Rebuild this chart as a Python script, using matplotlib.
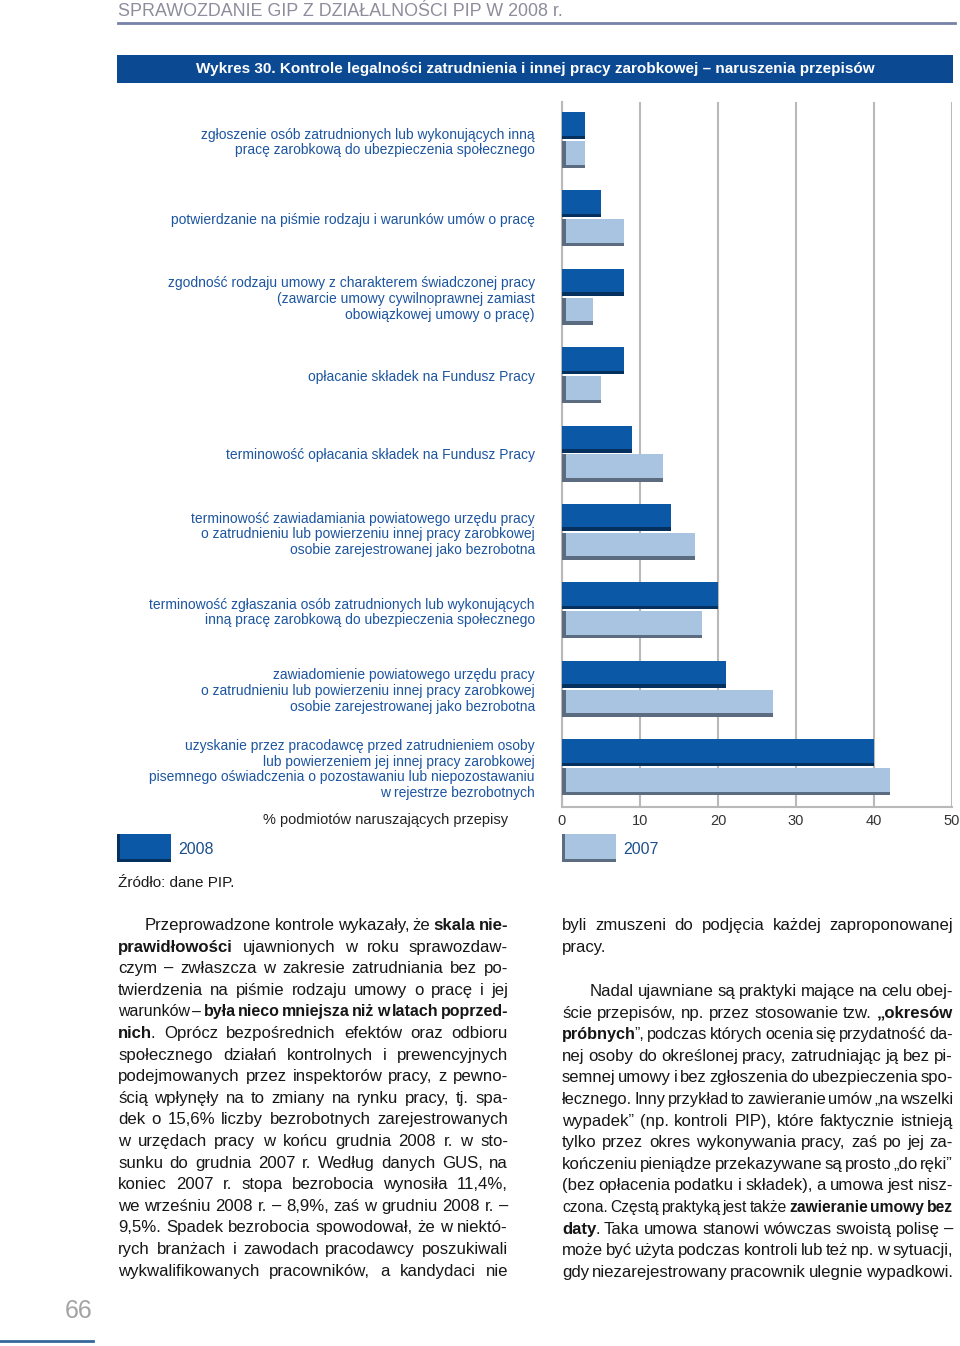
import matplotlib
matplotlib.use('Agg')
import matplotlib.pyplot as plt
from matplotlib.patches import Rectangle
import numpy as np

# chart data
categories = [
    "zgłoszenie osób zatrudnionych lub wykonujących inną\npracę zarobkową do ubezpieczenia społecznego",
    "potwierdzanie na piśmie rodzaju i warunków umów o pracę",
    "zgodność rodzaju umowy z charakterem świadczonej pracy\n(zawarcie umowy cywilnoprawnej zamiast\nobowiązkowej umowy o pracę)",
    "opłacanie składek na Fundusz Pracy",
    "terminowość opłacania składek na Fundusz Pracy",
    "terminowość zawiadamiania powiatowego urzędu pracy\no zatrudnieniu lub powierzeniu innej pracy zarobkowej\nosobie zarejestrowanej jako bezrobotna",
    "terminowość zgłaszania osób zatrudnionych lub wykonujących\ninną pracę zarobkową do ubezpieczenia społecznego",
    "zawiadomienie powiatowego urzędu pracy\no zatrudnieniu lub powierzeniu innej pracy zarobkowej\nosobie zarejestrowanej jako bezrobotna",
    "uzyskanie przez pracodawcę przed zatrudnieniem osoby\nlub powierzeniem jej innej pracy zarobkowej\npisemnego oświadczenia o pozostawaniu lub niepozostawaniu\nw rejestrze bezrobotnych",
]
v2008 = [3, 5, 8, 8, 9, 14, 20, 21, 40]
v2007 = [3, 8, 4, 5, 13, 17, 18, 27, 42]
xticks = [0, 10, 20, 30, 40, 50]
series_names = ['2008', '2007']

header = "SPRAWOZDANIE GIP Z DZIAŁALNOŚCI PIP W 2008 r."
title = "Wykres 30. Kontrole legalności zatrudnienia i innej pracy zarobkowej – naruszenia przepisów"
xlabel = "% podmiotów naruszających przepisy"
source = "Źródło: dane PIP."
page_no = "66"

# body text, * toggles bold (closed on each line)
left_lines = [
    "Przeprowadzone kontrole wykazały, że *skala nie-*",
    "*prawidłowości* ujawnionych w roku sprawozdaw-",
    "czym – zwłaszcza w zakresie zatrudniania bez po-",
    "twierdzenia na piśmie rodzaju umowy o pracę i jej",
    "warunków – *była nieco mniejsza niż w latach poprzed-*",
    "*nich*. Oprócz bezpośrednich efektów oraz odbioru",
    "społecznego działań kontrolnych i prewencyjnych",
    "podejmowanych przez inspektorów pracy, z pewno-",
    "ścią wpłynęły na to zmiany na rynku pracy, tj. spa-",
    "dek o 15,6% liczby bezrobotnych zarejestrowanych",
    "w urzędach pracy w końcu grudnia 2008 r. w sto-",
    "sunku do grudnia 2007 r. Według danych GUS, na",
    "koniec 2007 r. stopa bezrobocia wynosiła 11,4%,",
    "we wrześniu 2008 r. – 8,9%, zaś w grudniu 2008 r. –",
    "9,5%. Spadek bezrobocia spowodował, że w niektó-",
    "rych branżach i zawodach pracodawcy poszukiwali",
    "wykwalifikowanych pracowników, a kandydaci nie",
]
right_par1 = [
    "byli zmuszeni do podjęcia każdej zaproponowanej",
    "pracy.",
]
right_par2 = [
    "Nadal ujawniane są praktyki mające na celu obej-",
    "ście przepisów, np. przez stosowanie tzw. *„okresów*",
    "*próbnych*”, podczas których ocenia się przydatność da-",
    "nej osoby do określonej pracy, zatrudniając ją bez pi-",
    "semnej umowy i bez zgłoszenia do ubezpieczenia spo-",
    "łecznego. Inny przykład to zawieranie umów „na wszelki",
    "wypadek” (np. kontroli PIP), które faktycznie istnieją",
    "tylko przez okres wykonywania pracy, zaś po jej za-",
    "kończeniu pieniądze przekazywane są prosto „do ręki”",
    "(bez opłacenia podatku i składek), a umowa jest nisz-",
    "czona. Częstą praktyką jest także *zawieranie umowy bez*",
    "*daty*. Taka umowa stanowi wówczas swoistą polisę –",
    "może być użyta podczas kontroli lub też np. w sytuacji,",
    "gdy niezarejestrowany pracownik ulegnie wypadkowi.",
]

DARK = '#0b58a6'
DARK_SH = '#06305e'
LIGHT = '#a9c4e0'
LIGHT_SH = '#5b6b80'
LBL = '#1c55a0'
BODY = ['Liberation Sans', 'DejaVu Sans']
NARROW = ['Liberation Sans Narrow', 'Liberation Sans', 'DejaVu Sans']
BODY_SIZE = 12.1

W, H = 960, 1346
fig = plt.figure(figsize=(W / 100, H / 100), dpi=100)
page = fig.add_axes([0, 0, 1, 1])
page.set_xlim(0, W)
page.set_ylim(H, 0)
page.axis('off')
renderer = fig.canvas.get_renderer()


def text_w(s, size, bold=False, family=BODY):
    t = page.text(0, 0, s, fontsize=size, fontweight='bold' if bold else 'normal', family=family)
    w = t.get_window_extent(renderer).width
    t.remove()
    return w


def adv(s, size, bold=False):
    # advance-like width: ink width of s + 'l' minus ink of 'l'
    return text_w(s + 'l', size, bold) - text_w('l', size, bold)


def fit_text(x, y, s, width, size, **kw):
    t = page.text(x, y, s, fontsize=size, **kw)
    w = t.get_window_extent(renderer).width
    t.set_fontsize(size * width / w)
    return t


def parse(line):
    words = []
    bold = False
    for raw in line.split(' '):
        parts, buf = [], ''
        for ch in raw:
            if ch == '*':
                if buf:
                    parts.append((buf, bold))
                buf = ''
                bold = not bold
            else:
                buf += ch
        if buf:
            parts.append((buf, bold))
        if parts:
            words.append(parts)
    return words


def word_width(parts, size):
    w = 0
    for k, (s, b) in enumerate(parts):
        w += text_w(s, size, b) if k == len(parts) - 1 else adv(s, size, b) - 1
    return w


def text_line(x0, x1, base, line, justify, size=BODY_SIZE):
    words = parse(line)
    space = size * 100 / 72 * 0.278
    widths = [word_width(p, size) for p in words]
    need = sum(widths) + space * 0.55 * (len(words) - 1)
    if need > x1 - x0:
        size = size * (x1 - x0) / need
        space = size * 100 / 72 * 0.278
        widths = [word_width(p, size) for p in words]
    fill = (x1 - x0 - sum(widths)) / max(len(words) - 1, 1)
    gap = fill if justify else min(space, fill)
    x = x0
    for parts, w in zip(words, widths):
        xx = x
        for s, b in parts:
            page.text(xx, base, s, fontsize=size, fontweight='bold' if b else 'normal',
                      family=BODY, color='#161616', ha='left', va='baseline')
            xx += adv(s, size, b) - 1
        x += w + gap


# header
fit_text(118, 12, header, 447, 15, family=NARROW, color='#8d8d9c', ha='left', va='center')
page.plot([118, 955], [23, 23], color='#7682a8', lw=2)

# title banner
page.add_patch(Rectangle((117, 55), 836, 28, color='#0b4a93', lw=0))
fit_text(535, 69.5, title, 670, 12, family=NARROW, fontweight='bold', color='white',
         ha='center', va='center')

# chart
ax = fig.add_axes([562 / W, 1 - 807 / H, 390 / W, 705 / H])
y = np.arange(len(categories))
h = 0.345
off = 0.185
sh = 0.045
ax.barh(y - off, v2008, height=h, color=DARK, zorder=3)
ax.barh(y - off + h / 2 - sh / 2, v2008, height=sh, color=DARK_SH, zorder=4)
ax.barh(y + off, v2007, height=h, color=LIGHT, zorder=3)
ax.barh(y + off + h / 2 - sh / 2, v2007, height=sh, color=LIGHT_SH, zorder=4)
ax.barh(y + off, 0.45, height=h, color=LIGHT_SH, zorder=4)

ax.set_xlim(0, 50)
ax.set_ylim(len(categories) - 0.49, -0.485)
ax.set_xticks(xticks)
ax.set_xticklabels([str(t) for t in xticks], fontsize=10.5, color='#333333', family=BODY)
ax.set_yticks(y)
ax.set_yticklabels(categories, fontsize=10, color=LBL, family=BODY)
for t in ax.get_yticklabels():
    t.set_linespacing(1.15)
    t.set_multialignment('right')
ax.tick_params(axis='y', length=0, pad=19.5)
ax.tick_params(axis='x', length=0, pad=5)
ax.grid(axis='x', color='#b9b9b9', lw=1.5, zorder=0)
ax.set_axisbelow(True)
for s in ['top', 'right']:
    ax.spines[s].set_visible(False)
for s in ['left', 'bottom']:
    ax.spines[s].set_color('#b9b9b9')
    ax.spines[s].set_linewidth(1.5)

page.text(508, 820, xlabel, fontsize=10.5, color='#222222', family=BODY, ha='right', va='center')

# legend
for (lx, name, c, csh) in [(117, series_names[0], DARK, DARK_SH), (562, series_names[1], LIGHT, LIGHT_SH)]:
    page.add_patch(Rectangle((lx, 834), 54, 28, color=c, lw=0))
    page.add_patch(Rectangle((lx, 859), 54, 3, color=csh, lw=0))
    page.add_patch(Rectangle((lx, 834), 3, 28, color=csh, lw=0))
    page.text(lx + 61, 849, name, fontsize=11.5, color='#1d4f8c', family=BODY, ha='left', va='center')

page.text(118, 883, source, fontsize=11, color='#1a1a1a', family=BODY, ha='left', va='center')

# body text
step = 21.6
for i, line in enumerate(left_lines):
    x0 = 145 if i == 0 else 118
    text_line(x0, 508, 930 + step * i, line, justify=True)
for i, line in enumerate(right_par1):
    text_line(562, 953, 930 + 22 * i, line, justify=(i < len(right_par1) - 1))
for i, line in enumerate(right_par2):
    x0 = 590 if i == 0 else 562
    text_line(x0, 953, 996 + step * i, line, justify=(i < len(right_par2) - 1))

# page number
page.text(92, 1311, page_no, fontsize=18, family=NARROW, color='#a3a3a3', ha='right', va='center')
page.plot([0, 93], [1341, 1341], color='#35679a', lw=2)

fig.savefig('out.png', dpi=100)
